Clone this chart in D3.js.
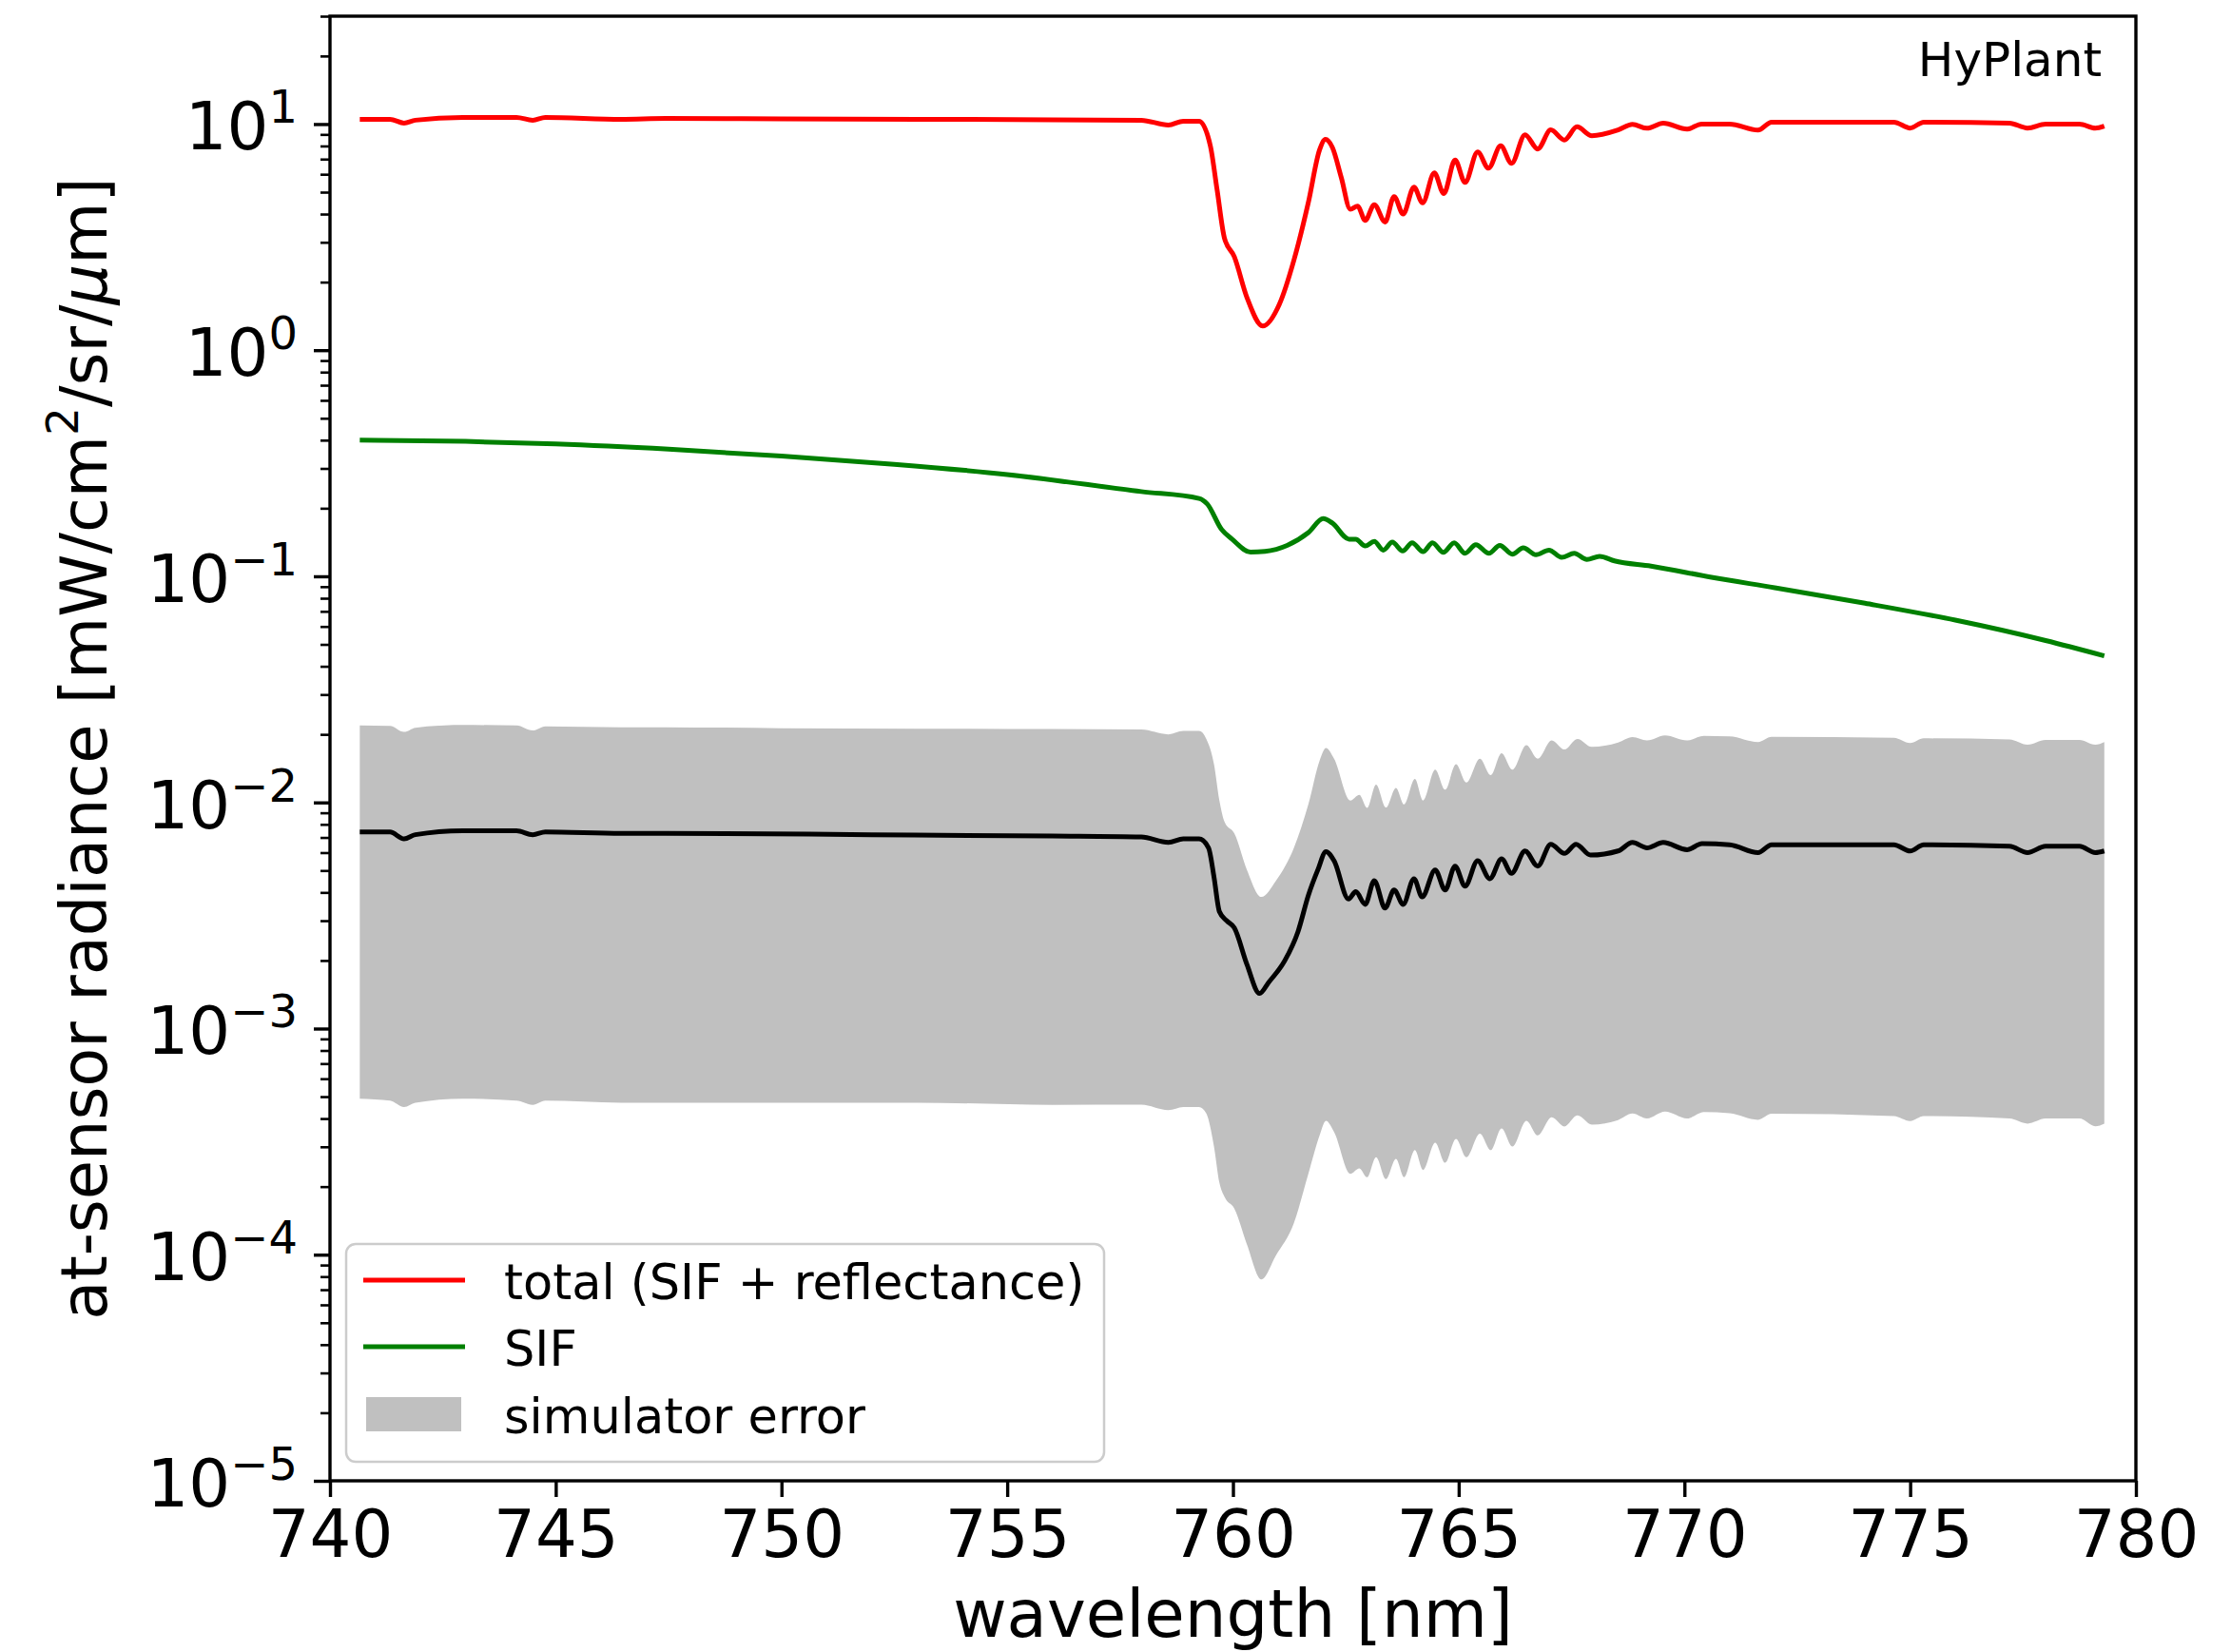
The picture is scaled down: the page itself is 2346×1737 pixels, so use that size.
<!DOCTYPE html>
<html>
<head>
<meta charset="utf-8">
<script src="https://cdn.jsdelivr.net/npm/d3@7"></script>
<style>
  html, body { margin: 0; padding: 0; background: #fff; }
  svg { display: block; }
  text { font-family: "DejaVu Sans", sans-serif; fill: #000; }
</style>
</head>
<body>
<svg id="chart" width="2346" height="1737"></svg>
<script>
// ---- data: [wavelength nm, radiance mW/cm2/sr/um] ----
const totalSpectrum = [
  [740.66,10.5],[741.33,10.5],[741.64,10.1],[741.89,10.4],[742.94,10.7],[744.13,10.7],[744.49,10.4],[744.77,10.7],
  [746.45,10.5],[747.44,10.6],[750,10.55],[753,10.5],[756,10.45],[757.97,10.4],[758.57,9.9],[758.9,10.3],[759.25,10.3],
  [759.5,8.0],[759.65,5.1],[759.81,3.14],[760.03,2.59],[760.31,1.71],[760.66,1.28],[761.03,1.6],[761.35,2.5],
  [761.67,4.5],[761.92,7.7],[762.05,8.55],[762.2,7.9],[762.4,5.8],[762.6,4.2],[762.76,4.34],[762.93,3.75],
  [763.13,4.4],[763.37,3.69],[763.57,4.78],[763.77,4.0],[764.01,5.26],[764.2,4.48],[764.46,6.08],[764.67,4.93],
  [764.92,6.93],[765.14,5.52],[765.42,7.52],[765.66,6.38],[765.93,8.01],[766.17,6.7],[766.47,8.97],[766.75,7.76],
  [767.04,9.42],[767.34,8.5],[767.62,9.72],[767.95,8.88],[768.53,9.42],[768.85,9.97],[769.17,9.58],[769.53,10.1],
  [770.06,9.5],[770.38,10.0],[771.0,10.0],[771.63,9.4],[771.93,10.2],[774.64,10.2],[775.0,9.6],[775.3,10.2],
  [777.2,10.1],[777.6,9.6],[778.0,10.0],[778.75,10.0],[779.1,9.6],[779.3,9.8]
];

const sifSpectrum = [
  [740.66,0.40],[743,0.395],[745,0.385],[747.5,0.365],[750,0.34],[752.5,0.313],[755,0.282],[757.97,0.237],
  [759.25,0.221],[759.43,0.209],[759.75,0.161],[759.98,0.146],[760.39,0.128],[760.71,0.129],[761.2,0.137],
  [761.67,0.156],[762.0,0.180],[762.2,0.172],[762.57,0.146],[762.72,0.146],[762.93,0.1362],[763.13,0.1426],
  [763.33,0.1306],[763.53,0.1416],[763.76,0.1294],[763.97,0.1406],[764.21,0.1285],[764.42,0.1406],[764.66,0.1276],
  [764.90,0.1406],[765.14,0.1264],[765.38,0.138],[765.67,0.1264],[765.91,0.1371],[766.19,0.1253],[766.43,0.1336],
  [766.71,0.1245],[767.0,0.1306],[767.28,0.1213],[767.56,0.1264],[767.84,0.1186],[768.12,0.1225],[768.45,0.117],
  [769.26,0.111],[770.6,0.099],[772,0.089],[774,0.076],[776,0.064],[778,0.052],[779.3,0.0445]
];

const simulatedSpectrum = [
  [740.66,0.0074],[741.33,0.0074],[741.64,0.0069],[741.89,0.0072],[742.94,0.0075],[744.13,0.0075],[744.49,0.0072],
  [744.77,0.0074],[746.45,0.0073],[747.44,0.0073],[752,0.0072],[756,0.0071],[757.97,0.00703],[758.57,0.00665],
  [758.9,0.0069],[759.25,0.0069],[759.46,0.00629],[759.58,0.00468],[759.7,0.00329],[759.86,0.0030],[760.03,0.00279],
  [760.31,0.00192],[760.59,0.00143],[760.79,0.0016],[761.15,0.0020],[761.44,0.00268],[761.67,0.00388],[761.88,0.00503],
  [762.06,0.00606],[762.24,0.00552],[762.56,0.00374],[762.72,0.00403],[762.93,0.00354],[763.13,0.00451],[763.37,0.00341],
  [763.57,0.0041],[763.77,0.00354],[764.01,0.0046],[764.19,0.00382],[764.48,0.00503],[764.7,0.0041],[764.92,0.00523],
  [765.14,0.00426],[765.42,0.00552],[765.69,0.0046],[765.95,0.00563],[766.17,0.00486],[766.47,0.0061],[766.75,0.00523],
  [767.04,0.00653],[767.34,0.00595],[767.6,0.00653],[767.92,0.00585],[768.53,0.0061],[768.85,0.00665],[769.17,0.0063],
  [769.53,0.00665],[770.06,0.00618],[770.39,0.00657],[771.0,0.0065],[771.63,0.0060],[771.93,0.0065],[774.64,0.0065],
  [775.0,0.0061],[775.3,0.0065],[777.2,0.0064],[777.6,0.0060],[778.0,0.0064],[778.75,0.0064],[779.1,0.0060],[779.3,0.0061]
];

// simulator error envelope: [wavelength, upper, lower]
const errorBand = [
  [740.66,0.0219,0.00049],[741.33,0.0218,0.00048],[741.64,0.0205,0.00045],[741.89,0.0214,0.00047],
  [742.94,0.0220,0.00049],[744.13,0.0219,0.00048],[744.49,0.0208,0.00046],[744.77,0.0217,0.00048],
  [746.45,0.0215,0.00047],[747.44,0.0215,0.00047],[750,0.0213,0.00047],[753,0.0212,0.00047],[756,0.0211,0.00046],
  [757.97,0.0210,0.000461],[758.57,0.0200,0.000436],[758.9,0.0207,0.00045],[759.25,0.0207,0.00045],
  [759.41,0.0191,0.000421],[759.58,0.01475,0.000301],[759.70,0.0102,0.000208],[759.82,0.00815,0.000179],
  [760.03,0.0073,0.00016],[760.31,0.00503,0.000111],[760.63,0.00382,0.0000778],[760.95,0.0045,0.0000991],
  [761.35,0.0063,0.000138],[761.67,0.0098,0.000228],[761.92,0.0153,0.000337],[762.06,0.0174,0.000391],
  [762.24,0.0156,0.000349],[762.60,0.0102,0.000228],[762.80,0.0108,0.000241],[762.97,0.00946,0.00022],
  [763.17,0.0120,0.00027],[763.39,0.0095,0.000216],[763.61,0.0116,0.000265],[763.79,0.0098,0.00022],
  [764.03,0.0127,0.00029],[764.21,0.0102,0.000237],[764.48,0.01396,0.000313],[764.70,0.01138,0.000255],
  [764.94,0.01475,0.000325],[765.17,0.01225,0.00027],[765.47,0.0156,0.000343],[765.71,0.0132,0.00029],
  [765.95,0.0165,0.000362],[766.19,0.01396,0.000301],[766.50,0.0179,0.000391],[766.75,0.0156,0.000337],
  [767.06,0.0188,0.000405],[767.34,0.01714,0.000369],[767.63,0.0191,0.000413],[767.95,0.0176,0.000376],
  [768.53,0.0184,0.000394],[768.85,0.01946,0.000421],[769.17,0.0188,0.0004],[769.57,0.0198,0.000429],
  [770.06,0.0188,0.0004],[770.43,0.0197,0.000427],[771.0,0.0196,0.000422],[771.63,0.0185,0.000395],
  [771.93,0.0195,0.00042],[774.64,0.0193,0.00041],[775.0,0.0183,0.00039],[775.3,0.0192,0.00041],
  [777.2,0.0190,0.00040],[777.6,0.0180,0.00038],[778.0,0.0189,0.00040],[778.75,0.0189,0.00040],
  [779.1,0.0180,0.00037],[779.3,0.0185,0.00038]
];

const xTicks = [740, 745, 750, 755, 760, 765, 770, 775, 780];
const yTickExponents = [-5, -4, -3, -2, -1, 0, 1];
const legendLabels = ["total (SIF + reflectance)", "SIF", "simulator error"];
const sensorLabel = "HyPlant";

// ---- layout ----
const plot = { left: 347, right: 2246, top: 17, bottom: 1557 };
const svg = d3.select("#chart");

const x = d3.scaleLinear().domain([740, 780]).range([plot.left, plot.right]);
const y = d3.scaleLog().domain([1e-5, 30]).range([plot.bottom, plot.top]);

const clipId = "plot-clip";
svg.append("defs").append("clipPath").attr("id", clipId)
  .append("rect")
  .attr("x", plot.left).attr("y", plot.top)
  .attr("width", plot.right - plot.left).attr("height", plot.bottom - plot.top);

const g = svg.append("g").attr("clip-path", `url(#${clipId})`);

// error envelope
const band = d3.area()
  .x(d => x(d[0]))
  .y0(d => y(d[2]))
  .y1(d => y(d[1]))
  .curve(d3.curveMonotoneX);
g.append("path").datum(errorBand)
  .attr("d", band)
  .attr("fill", "#c0c0c0");

const line = d3.line()
  .x(d => x(d[0]))
  .y(d => y(d[1]))
  .curve(d3.curveMonotoneX);

g.append("path").datum(simulatedSpectrum)
  .attr("d", line).attr("fill", "none")
  .attr("stroke", "#000").attr("stroke-width", 5).attr("stroke-linejoin", "round");

g.append("path").datum(sifSpectrum)
  .attr("d", line).attr("fill", "none")
  .attr("stroke", "#008000").attr("stroke-width", 5).attr("stroke-linejoin", "round");

g.append("path").datum(totalSpectrum)
  .attr("d", line).attr("fill", "none")
  .attr("stroke", "#ff0000").attr("stroke-width", 5).attr("stroke-linejoin", "round");

// ---- axes ----
const fontSize = 69;

const xAxis = svg.append("g")
  .attr("transform", `translate(0,${plot.bottom})`)
  .call(d3.axisBottom(x).tickValues(xTicks).tickSize(17).tickPadding(14).tickFormat(d3.format("d")));
xAxis.select(".domain").remove();
xAxis.selectAll(".tick line").attr("stroke", "#000").attr("stroke-width", 3.4);
xAxis.selectAll(".tick text")
  .attr("font-size", fontSize)
  .attr("font-family", "DejaVu Sans")
  .attr("fill", "#000");

// minor y ticks (2..9 of each decade)
const minorVals = [];
for (let e = -5; e <= 1; e++) {
  for (let k = 2; k <= 9; k++) {
    const v = k * Math.pow(10, e);
    if (v <= 30) minorVals.push(v);
  }
}
const yMinor = svg.append("g")
  .attr("transform", `translate(${plot.left},0)`)
  .call(d3.axisLeft(y).tickValues(minorVals).tickSize(10).tickFormat(""));
yMinor.select(".domain").remove();
yMinor.selectAll(".tick line").attr("stroke", "#000").attr("stroke-width", 2.6);

const yMajor = svg.append("g")
  .attr("transform", `translate(${plot.left},0)`)
  .call(d3.axisLeft(y).tickValues(yTickExponents.map(e => Math.pow(10, e))).tickSize(17).tickFormat(""));
yMajor.select(".domain").remove();
yMajor.selectAll(".tick line").attr("stroke", "#000").attr("stroke-width", 3.4);

// y tick labels as 10^n
const yLabels = svg.append("g");
yTickExponents.forEach(e => {
  const t = yLabels.append("text")
    .attr("x", 313)
    .attr("y", y(Math.pow(10, e)) + 27)
    .attr("text-anchor", "end")
    .attr("font-size", fontSize);
  t.append("tspan").text("10");
  t.append("tspan")
    .attr("dy", -28)
    .attr("font-size", 48)
    .text(e < 0 ? "\u2212" + Math.abs(e) : String(e));
});

// frame
svg.append("rect")
  .attr("x", plot.left).attr("y", plot.top)
  .attr("width", plot.right - plot.left).attr("height", plot.bottom - plot.top)
  .attr("fill", "none").attr("stroke", "#000").attr("stroke-width", 3.4);

// axis titles
svg.append("text")
  .attr("x", (plot.left + plot.right) / 2)
  .attr("y", 1721)
  .attr("text-anchor", "middle")
  .attr("font-size", fontSize)
  .text("wavelength [nm]");

const yTitle = svg.append("text")
  .attr("transform", `translate(112,${(plot.top + plot.bottom) / 2}) rotate(-90)`)
  .attr("text-anchor", "middle")
  .attr("font-size", 67);
yTitle.append("tspan").text("at-sensor radiance [mW/cm");
yTitle.append("tspan").attr("dy", -30).attr("font-size", 47).text("2");
yTitle.append("tspan").attr("dy", 30).text("/sr/");
yTitle.append("tspan").attr("font-style", "italic").text("\u03bc");
yTitle.append("tspan").text("m]");

// instrument label
svg.append("text")
  .attr("x", 2210).attr("y", 80)
  .attr("text-anchor", "end")
  .attr("font-size", 50)
  .text(sensorLabel);

// ---- legend ----
const legend = svg.append("g");
legend.append("rect")
  .attr("x", 364).attr("y", 1308)
  .attr("width", 797).attr("height", 229)
  .attr("rx", 10).attr("ry", 10)
  .attr("fill", "#fff").attr("fill-opacity", 0.8)
  .attr("stroke", "#cccccc").attr("stroke-width", 2.5);

const rowY = [1346, 1416, 1487];
legend.append("line")
  .attr("x1", 382).attr("x2", 489).attr("y1", rowY[0]).attr("y2", rowY[0])
  .attr("stroke", "#ff0000").attr("stroke-width", 5);
legend.append("line")
  .attr("x1", 382).attr("x2", 489).attr("y1", rowY[1]).attr("y2", rowY[1])
  .attr("stroke", "#008000").attr("stroke-width", 5);
legend.append("rect")
  .attr("x", 385).attr("y", rowY[2] - 18)
  .attr("width", 100).attr("height", 36)
  .attr("fill", "#c0c0c0");

legendLabels.forEach((lab, i) => {
  legend.append("text")
    .attr("x", 530).attr("y", rowY[i] + 20)
    .attr("font-size", 51)
    .text(lab);
});
</script>
</body>
</html>
